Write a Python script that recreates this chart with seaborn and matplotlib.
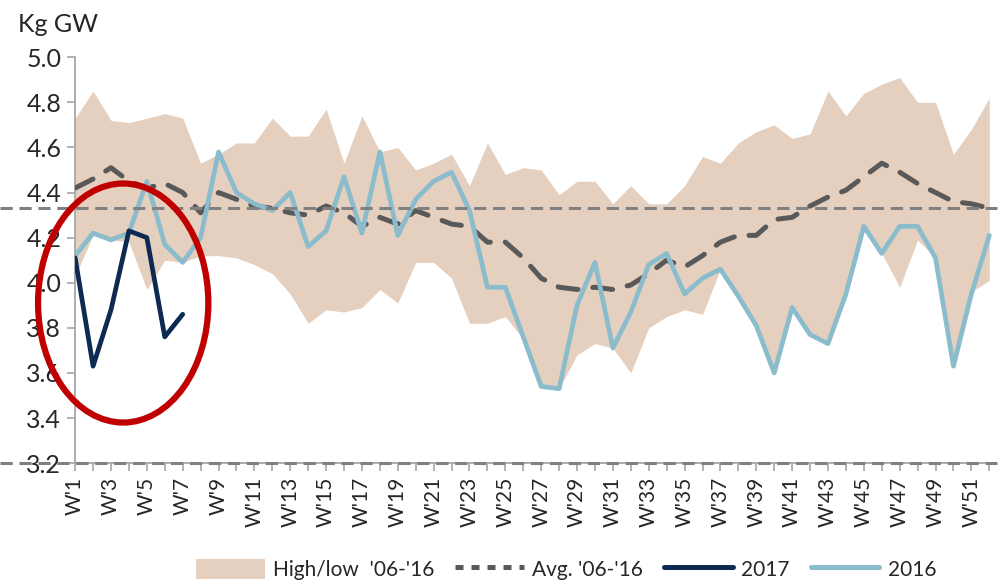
import matplotlib
matplotlib.use('Agg')
import matplotlib.pyplot as plt
import matplotlib.transforms as mtransforms
from matplotlib.patches import Ellipse, Patch
from matplotlib.lines import Line2D
import seaborn as sns
import numpy as np
import pandas as pd

# ========== 数据 ==========
weeks = [f"W'{i}" for i in range(1, 53)]

high_06_16 = [4.73, 4.85, 4.72, 4.71, 4.73, 4.75, 4.73, 4.53, 4.57, 4.62,
              4.62, 4.73, 4.65, 4.65, 4.77, 4.53, 4.74, 4.58, 4.60, 4.50,
              4.53, 4.57, 4.43, 4.62, 4.48, 4.51, 4.50, 4.39, 4.45, 4.45,
              4.35, 4.43, 4.35, 4.35, 4.43, 4.56, 4.53, 4.62, 4.67, 4.70,
              4.64, 4.66, 4.85, 4.74, 4.84, 4.88, 4.91, 4.80, 4.80, 4.57,
              4.68, 4.82]

low_06_16 = [4.03, 4.21, 4.19, 4.18, 3.97, 4.10, 4.09, 4.12, 4.12, 4.11,
             4.08, 4.04, 3.95, 3.82, 3.88, 3.87, 3.89, 3.97, 3.91, 4.09,
             4.09, 4.02, 3.82, 3.82, 3.85, 3.75, 3.54, 3.53, 3.68, 3.73,
             3.71, 3.60, 3.80, 3.85, 3.88, 3.86, 4.06, 3.94, 3.81, 3.60,
             3.89, 3.77, 3.73, 3.95, 4.25, 4.13, 3.98, 4.19, 4.11, 3.62,
             3.96, 4.01]

avg_06_16 = [4.42, 4.46, 4.51, 4.45, 4.42, 4.44, 4.40, 4.31, 4.40, 4.37,
             4.34, 4.33, 4.31, 4.30, 4.34, 4.31, 4.25, 4.29, 4.26, 4.32,
             4.29, 4.26, 4.25, 4.18, 4.18, 4.11, 4.02, 3.98, 3.97, 3.98,
             3.97, 3.99, 4.04, 4.10, 4.07, 4.12, 4.18, 4.21, 4.21, 4.28,
             4.29, 4.34, 4.38, 4.41, 4.47, 4.53, 4.49, 4.44, 4.40, 4.36,
             4.35, 4.33]

y2016 = [4.12, 4.22, 4.19, 4.22, 4.45, 4.17, 4.09, 4.20, 4.58, 4.40,
         4.35, 4.32, 4.40, 4.16, 4.23, 4.47, 4.22, 4.58, 4.21, 4.37,
         4.45, 4.49, 4.32, 3.98, 3.98, 3.76, 3.54, 3.53, 3.90, 4.09,
         3.71, 3.87, 4.08, 4.13, 3.95, 4.02, 4.06, 3.94, 3.81, 3.60,
         3.89, 3.77, 3.73, 3.95, 4.25, 4.13, 4.25, 4.25, 4.11, 3.63,
         3.95, 4.21]

y2017 = [4.11, 3.63, 3.88, 4.23, 4.20, 3.76, 3.86]

ref_level = 4.33

# ========== 样式 ==========
sns.set_style('white')
plt.rcParams['font.family'] = ['Lato', 'DejaVu Sans']

C_BAND = '#E5D0C0'
C_AVG = '#595959'
C_2017 = '#0C2A52'
C_2016 = '#8BBCCB'
C_REF = '#808080'
C_AXIS = '#A6A6A6'

df = pd.DataFrame({'week': weeks, 'x': np.arange(len(weeks)),
                   'high': high_06_16, 'low': low_06_16,
                   'avg': avg_06_16, 'y2016': y2016})
df17 = pd.DataFrame({'x': np.arange(len(y2017)), 'y2017': y2017})

fig = plt.figure(figsize=(10.02, 5.84), dpi=100)
ax = fig.add_axes([0.075, 0.207, 0.915, 0.695])

ax.fill_between(df['x'], df['low'], df['high'], color=C_BAND, lw=0, zorder=1)
sns.lineplot(data=df, x='x', y='avg', ax=ax, color=C_AVG, lw=3.6,
             zorder=3, legend=False)
avg_line = ax.lines[-1]
avg_line.set_linestyle((0, (4.0, 3.0)))
avg_line.set_dash_capstyle('round')
sns.lineplot(data=df, x='x', y='y2016', ax=ax, color=C_2016, lw=3.4,
             zorder=4, legend=False)
sns.lineplot(data=df17, x='x', y='y2017', ax=ax, color=C_2017, lw=3.4,
             zorder=5, legend=False)

# 参考虚线（延伸到图左侧）
trans = mtransforms.blended_transform_factory(ax.transAxes, ax.transData)
for lvl in [ref_level, 3.2]:
    ax.plot([-0.082, 1.006], [lvl, lvl], transform=trans, color=C_REF,
            lw=2.2, dashes=[4, 2.2], clip_on=False, zorder=6)

# 红色椭圆
ax.add_patch(Ellipse((2.68, 3.91), 9.5, 1.06, fill=False, edgecolor='#C00000',
                     lw=4.5, clip_on=False, zorder=7))

ax.set_xlim(0, 51.15)
ax.set_ylim(3.2, 5.0)
ax.set_yticks(np.arange(3.2, 5.01, 0.2))
ax.set_yticklabels([f'{v:.1f}' for v in np.arange(3.2, 5.01, 0.2)], fontsize=18)
ax.set_xticks(df['x'])
ax.set_xticklabels([w if i % 2 == 0 else '' for i, w in enumerate(weeks)],
                   rotation=90, fontsize=15)
ax.set_xlabel('')
ax.set_ylabel('')

for s in ['top', 'right']:
    ax.spines[s].set_visible(False)
for s in ['left', 'bottom']:
    ax.spines[s].set_color(C_AXIS)
    ax.spines[s].set_linewidth(1.3)
ax.tick_params(axis='both', which='major', length=6, width=1.2,
               color=C_AXIS, direction='out', pad=4, bottom=True, left=True)

fig.text(0.018, 0.958, 'Kg GW', fontsize=18, ha='left', va='center')

handles = [Patch(facecolor=C_BAND, edgecolor='none'),
           Line2D([], [], color=C_AVG, lw=3.6, linestyle=(0, (1.6, 1.6))),
           Line2D([], [], color=C_2017, lw=3.6),
           Line2D([], [], color=C_2016, lw=3.6)]
labels = ["High/low  '06-'16", "Avg. '06-'16", '2017', '2016']
fig.legend(handles, labels, loc='center', bbox_to_anchor=(0.565, 0.025),
           ncol=4, frameon=False, fontsize=15, handlelength=3.3,
           handleheight=1.1, columnspacing=1.0, handletextpad=0.4)

fig.savefig('out.png', dpi=100)
